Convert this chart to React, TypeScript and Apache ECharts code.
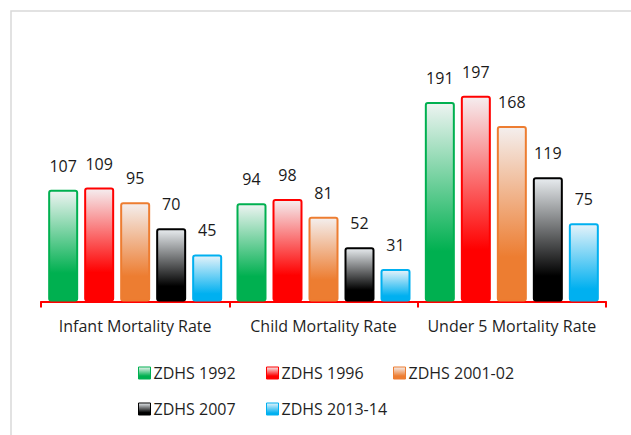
import React, { useEffect, useRef } from "react";
import * as echarts from "echarts";

const categories = ["Infant Mortality Rate", "Child Mortality Rate", "Under 5 Mortality Rate"];
const seriesNames = ["ZDHS 1992", "ZDHS 1996", "ZDHS 2001-02", "ZDHS 2007", "ZDHS 2013-14"];
const zdhs1992 = [107, 94, 191];
const zdhs1996 = [109, 98, 197];
const zdhs2001 = [95, 81, 168];
const zdhs2007 = [70, 52, 119];
const zdhs2013 = [45, 31, 75];
const seriesValues = [zdhs1992, zdhs1996, zdhs2001, zdhs2007, zdhs2013];

const solidColors = ["#00b050", "#ff0000", "#ed7d31", "#000000", "#00b0f0"];
const lightColors = ["#eef4f2", "#f5eef0", "#f4efee", "#e8ecef", "#e6f3fa"];
const fullStop = [0.75, 0.75, 0.75, 0.8, 0.85];

const legendPos = [
  { left: 138, top: 365 },
  { left: 266, top: 365 },
  { left: 393, top: 365 },
  { left: 138, top: 401 },
  { left: 266, top: 401 },
];

const FONT = "'Open Sans', sans-serif";

export default function App() {
  const ref = useRef<HTMLDivElement>(null);
  useEffect(() => {
    if (!ref.current) return;
    const chart = echarts.init(ref.current, undefined, { renderer: "svg" });
    const series = seriesNames.map((name, i) => ({
      name,
      type: "bar",
      data: seriesValues[i],
      barWidth: 30,
      barGap: "20%",
      itemStyle: {
        color: new echarts.graphic.LinearGradient(0, 0, 0, 1, [
          { offset: 0, color: lightColors[i] },
          { offset: fullStop[i], color: solidColors[i] },
          { offset: 1, color: solidColors[i] },
        ]),
        borderColor: solidColors[i],
        borderWidth: 2,
        borderRadius: 2,
      },
      label: {
        show: true,
        position: "top",
        distance: 16,
        fontSize: 16,
        fontFamily: FONT,
        color: "#1a1a1a",
      },
    }));
    chart.setOption({
      animation: false,
      backgroundColor: "#ffffff",
      grid: { left: 41, right: 25, top: 92.5, bottom: 133.5, containLabel: false },
      xAxis: {
        type: "category",
        data: categories,
        axisLine: { lineStyle: { color: "#ff0000", width: 2 } },
        axisTick: { show: true, length: 6, lineStyle: { color: "#ff0000", width: 2 } },
        axisLabel: { fontSize: 16, fontFamily: FONT, color: "#1f1f1f", margin: 16, interval: 0 },
      },
      yAxis: { type: "value", min: 0, max: 200, show: false, splitLine: { show: false } },
      legend: seriesNames.map((name, i) => ({
        data: [name],
        left: legendPos[i].left,
        top: legendPos[i].top,
        padding: 0,
        icon: "rect",
        itemWidth: 12,
        itemHeight: 12,
        itemStyle: { borderWidth: 1 },
        textStyle: { fontSize: 16, fontFamily: FONT, color: "#1f1f1f", padding: [0, 0, 0, -2] },
        selectedMode: false,
      })),
      graphic: [
        {
          type: "rect",
          shape: { x: 11, y: 11, width: 700, height: 500 },
          style: { fill: "none", stroke: "#d9d9d9", lineWidth: 1.5 },
          silent: true,
        },
      ],
      series,
    });
    return () => chart.dispose();
  }, []);
  return (
    <div
      ref={ref}
      style={{ position: "absolute", left: 0, top: 0, width: 631, height: 435 }}
    />
  );
}
